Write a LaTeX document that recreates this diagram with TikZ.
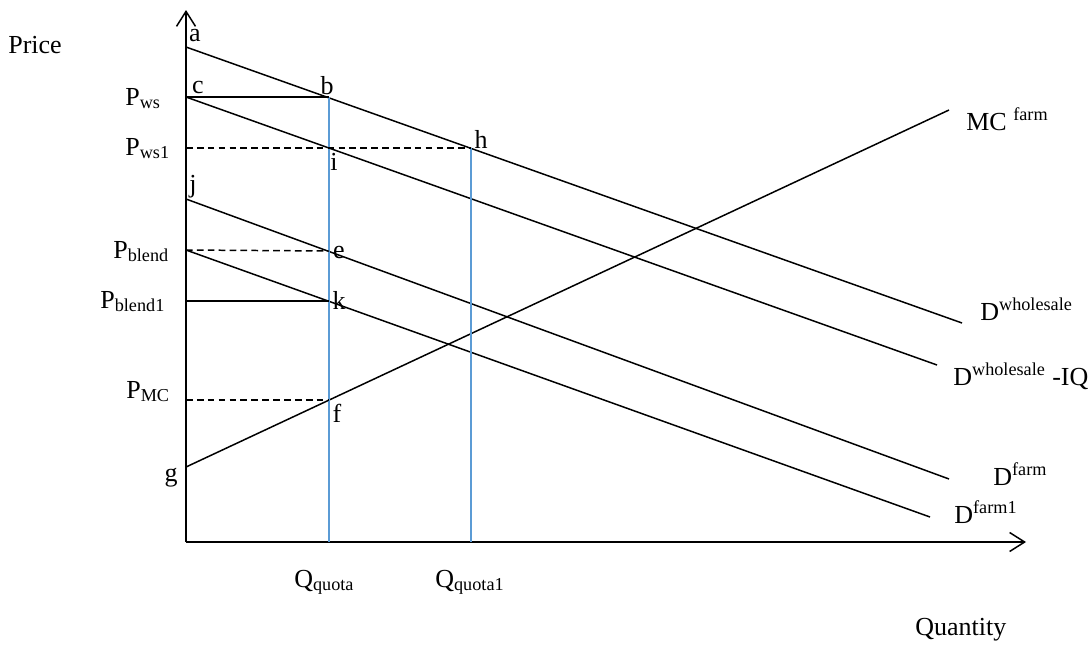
\documentclass[tikz,border=0pt]{standalone}
\usepackage{fontspec}
\setmainfont{Liberation Serif}
\usetikzlibrary{arrows.meta}
\definecolor{quotablue}{RGB}{91,155,213}
\tikzset{
  lbl/.style={font=\fontsize{14.8}{17}\selectfont, inner sep=0pt},
  curve/.style={line width=0.85pt},
  guide/.style={line width=0.85pt, dash pattern=on 3.8pt off 2.4pt},
  quota/.style={quotablue, line width=0.95pt},
  axis/.style={line width=0.85pt, -{Straight Barb[length=0.3cm,width=0.38cm,line width=0.85pt]}}
}

\begin{document}
\begin{tikzpicture}[x=0.02cm, y=-0.02cm]
  \useasboundingbox (0,0) rectangle (1091,646);

  % Ejes
  \coordinate (O) at (186,542);
  \coordinate (Ytop) at (186,10);
  \coordinate (Xend) at (1026,542);
  \draw[axis] (O) -- (Ytop);
  \draw[axis] (O) -- (Xend);
  \node[lbl, anchor=west] (price) at (8,45) {Price};
  \node[lbl, anchor=base west] (quantity) at (915,635) {Quantity};

  % Curvas de demanda y de costo
  \coordinate (A) at (186,47);
  \coordinate (B) at (329,97);
  \coordinate (H) at (471,148);
  \coordinate (Dwend) at (962,323);
  \coordinate (C) at (186,97);
  \coordinate (I) at (329,148);
  \coordinate (Dwiqend) at (937,365);
  \coordinate (J) at (186,199);
  \coordinate (E) at (329,251);
  \coordinate (Dfend) at (949,479);
  \coordinate (Pb) at (186,250);
  \coordinate (K) at (329,301);
  \coordinate (Df1end) at (930,517);
  \coordinate (G) at (186,467);
  \coordinate (F) at (329,400);
  \coordinate (MCend) at (949,110);
  \draw[curve] (A) -- (Dwend);
  \draw[curve] (C) -- (Dwiqend);
  \draw[curve] (J) -- (Dfend);
  \draw[curve] (Pb) -- (Df1end);
  \draw[curve] (G) -- (MCend);

  % Cuotas
  \coordinate (Q1) at (329,542);
  \coordinate (Q2) at (471,542);
  \draw[quota] (Q1) -- (B);
  \draw[quota] (Q2) -- (H);

  % Precios
  \draw[curve] (C) -- (B);
  \draw[guide] (186,148) coordinate (Pws1) -- (H);
  \draw[guide] (Pb) -- (E);
  \draw[curve] (186,301) coordinate (Pb1) -- (K);
  \draw[guide] (186,400) coordinate (Pmc) -- (F);

  % Etiquetas
  \node[lbl] (la) at (195,36) {a};
  \node[lbl] (lc) at (198,87) {c};
  \node[lbl] (lb) at (327,86) {b};
  \node[lbl] (lh) at (481,139) {h};
  \node[lbl] (li) at (334,162) {i};
  \node[lbl] (lj) at (193,187) {j};
  \node[lbl] (le) at (339,252) {e};
  \node[lbl] (lk) at (339,300) {k};
  \node[lbl] (lf) at (337,413) {f};
  \node[lbl] (lg) at (171,478) {g};
  \node[lbl, anchor=base west] (pws) at (125,105) {P\textsubscript{ws}};
  \node[lbl, anchor=base west] (pws1) at (125,155) {P\textsubscript{ws1}};
  \node[lbl, anchor=base west] (pblend) at (113,258) {P\textsubscript{blend}};
  \node[lbl, anchor=base west] (pblend1) at (100,308) {P\textsubscript{blend1}};
  \node[lbl, anchor=base west] (pmc) at (126,398) {P\textsubscript{MC}};
  \node[lbl, anchor=base west] (qquota) at (294,587) {Q\textsubscript{quota}};
  \node[lbl, anchor=base west] (qquota1) at (435,587) {Q\textsubscript{quota1}};
  \node[lbl, anchor=base west] (mcfarm) at (966,130) {MC \textsuperscript{farm}};
  \node[lbl, anchor=base west] (dw) at (980,320) {D\textsuperscript{wholesale}};
  \node[lbl, anchor=base west] (dwiq) at (953,385) {D\textsuperscript{wholesale} -IQ};
  \node[lbl, anchor=base west] (df) at (993,485) {D\textsuperscript{farm}};
  \node[lbl, anchor=base west] (df1) at (954,523) {D\textsuperscript{farm1}};
\end{tikzpicture}
\end{document}
